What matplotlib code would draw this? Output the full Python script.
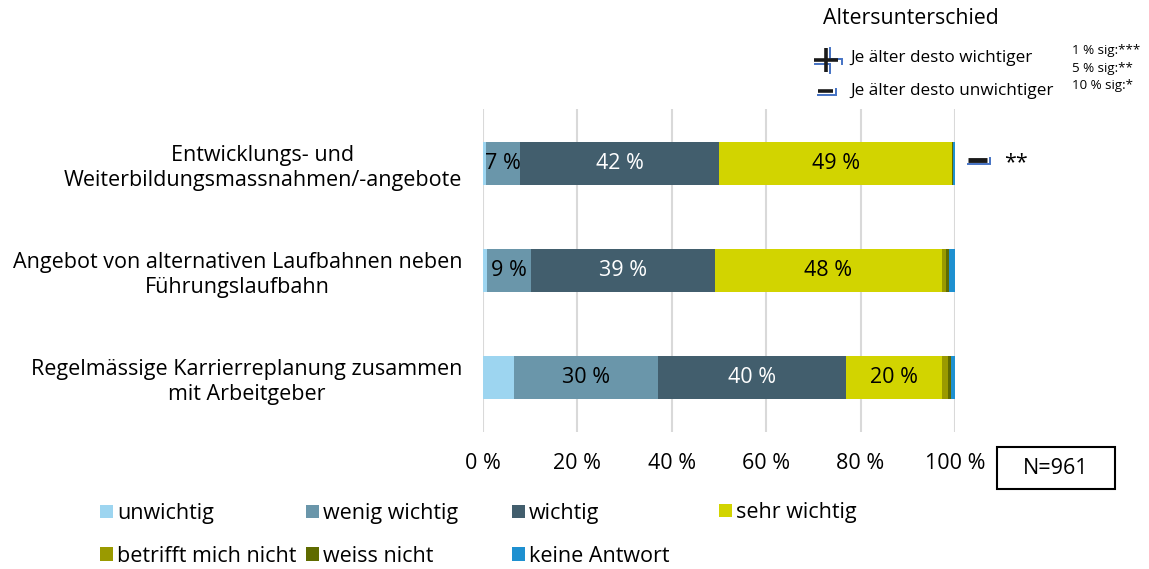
import matplotlib
matplotlib.use("Agg")
import matplotlib.pyplot as plt
from matplotlib.patches import Rectangle
import numpy as np

plt.rcParams['font.family'] = ['Open Sans', 'DejaVu Sans']

# ---- data ----
categories = [
    "Entwicklungs- und\nWeiterbildungsmassnahmen/-angebote",
    "Angebot von alternativen Laufbahnen neben\nFührungslaufbahn",
    "Regelmässige Karrierreplanung zusammen\nmit Arbeitgeber",
]
series_names = ["unwichtig", "wenig wichtig", "wichtig", "sehr wichtig",
                "betrifft mich nicht", "weiss nicht", "keine Antwort"]
unwichtig = [0.6, 0.9, 6.6]
wenig_wichtig = [7.3, 9.3, 30.4]
wichtig = [42.2, 39.0, 40.0]
sehr_wichtig = [49.2, 48.0, 20.3]
betrifft_mich_nicht = [0.1, 0.9, 1.2]
weiss_nicht = [0.2, 0.6, 0.7]
keine_antwort = [0.4, 1.3, 0.8]
series_values = [unwichtig, wenig_wichtig, wichtig, sehr_wichtig,
                 betrifft_mich_nicht, weiss_nicht, keine_antwort]
colors = ["#9DD5F0", "#6A96AA", "#425E6D", "#D2D400",
          "#9A9A00", "#5F6B00", "#1E90D0"]
label_colors = [None, "black", "white", "black", None, None, None]
xticks = [0, 20, 40, 60, 80, 100]
xtick_labels = ["0 %", "20 %", "40 %", "60 %", "80 %", "100 %"]
n_text = "N=961"
sig_marks = ["**", "", ""]        # significance per category
sig_dir = ["minus", None, None]   # age difference direction

W, H = 1149, 569
FS = 15.5

fig = plt.figure(figsize=(W / 100, H / 100), dpi=100)
ax = fig.add_axes([483 / W, 1 - 432 / H, 472 / W, 323 / H])

y = np.arange(len(categories))
left = np.zeros(len(categories))
handles = []
for name, vals, col, lc in zip(series_names, series_values, colors, label_colors):
    vals = np.array(vals)
    b = ax.barh(y, vals, left=left, height=0.4, color=col, label=name, zorder=2)
    handles.append(b)
    if lc is not None:
        for yi, v, l in zip(y, vals, left):
            if v >= 7:
                ax.text(l + v / 2, yi, f"{round(v)} %", ha="center", va="center",
                        color=lc, fontsize=FS, zorder=3)
    left += vals

ax.set_xlim(0, 100)
ax.set_ylim(2.51, -0.505)
ax.set_xticks(xticks)
ax.set_xticklabels(xtick_labels, fontsize=FS)
ax.set_yticks(y)
ax.set_yticklabels(categories, fontsize=FS, multialignment="center", linespacing=1.25)
ax.tick_params(axis="x", length=0, pad=15)
ax.tick_params(axis="y", length=0, pad=15)
ax.grid(axis="x", color="#D9D9D9", lw=1.5, zorder=0)
ax.set_axisbelow(True)
for s in ax.spines.values():
    s.set_visible(False)

# ---- overlay in pixel coordinates ----
ov = fig.add_axes([0, 0, 1, 1], zorder=5)
ov.set_xlim(0, W)
ov.set_ylim(H, 0)
ov.axis("off")
ov.patch.set_alpha(0)

blue = "#4472C4"
dark = "#1a1a1a"

def plus_icon(cx, cy, s=12, o=4):
    ov.plot([cx + o, cx + o, cx + s + o, cx + s + o], [cy - s, cy - 1, cy - 1, cy + o],
            color=blue, lw=1.4, solid_joinstyle="miter")
    ov.plot([cx - s + 1, cx + o, cx + o], [cy + o, cy + o, cy + s + 1],
            color=blue, lw=1.4, solid_joinstyle="miter")
    ov.plot([cx - s, cx + s], [cy, cy], color=dark, lw=2.6, solid_capstyle="butt")
    ov.plot([cx, cx], [cy - s, cy + s], color=dark, lw=2.6, solid_capstyle="butt")

def minus_icon(cx, cy, s=8, lw=2.6):
    ov.plot([cx - s, cx + s + 2, cx + s + 2], [cy + 4, cy + 4, cy - 2],
            color=blue, lw=1.4, solid_joinstyle="miter")
    ov.plot([cx - s, cx + s - 1], [cy, cy], color=dark, lw=lw, solid_capstyle="butt")

ov.text(823, 18, "Altersunterschied", fontsize=15.3, va="center", ha="left")
plus_icon(826, 60)
ov.text(850, 58, "Je älter desto wichtiger", fontsize=12.3, va="center", ha="left")
minus_icon(826, 91)
ov.text(850, 91, "Je älter desto unwichtiger", fontsize=12.3, va="center", ha="left")
ov.text(1072, 50, "1 % sig:***", fontsize=9.6, va="center", ha="left")
ov.text(1072, 68, "5 % sig:**", fontsize=9.6, va="center", ha="left")
ov.text(1072, 85, "10 % sig:*", fontsize=9.6, va="center", ha="left")

# significance markers next to bars
bar_px = [163, 270, 377]
for yp, d, m in zip(bar_px, sig_dir, sig_marks):
    if d == "minus":
        minus_icon(978, yp - 3, s=10, lw=3.5)
    if m:
        ov.text(1004, yp, m, fontsize=FS, va="center", ha="left")

# N box
ov.add_patch(Rectangle((997, 447), 118, 42, fill=False, ec="black", lw=1.5))
ov.text(1056, 468, n_text, fontsize=FS, ha="center", va="center")

# ---- legend (row-major, 4 columns) ----
col_x = [100, 306, 512, 719]
cols = [[0, 4], [1, 5], [2, 6], [3]]
for cx, idx in zip(col_x, cols):
    yc = 512.5 if len(idx) == 1 else 535
    fig.legend([handles[i] for i in idx], [series_names[i] for i in idx],
               loc="center left", bbox_to_anchor=(cx / W, 1 - yc / H),
               frameon=False, fontsize=FS, borderpad=0, borderaxespad=0,
               handlelength=0.6, handleheight=0.6, handletextpad=0.2,
               labelspacing=1.0)

fig.savefig("out.png", dpi=100)
